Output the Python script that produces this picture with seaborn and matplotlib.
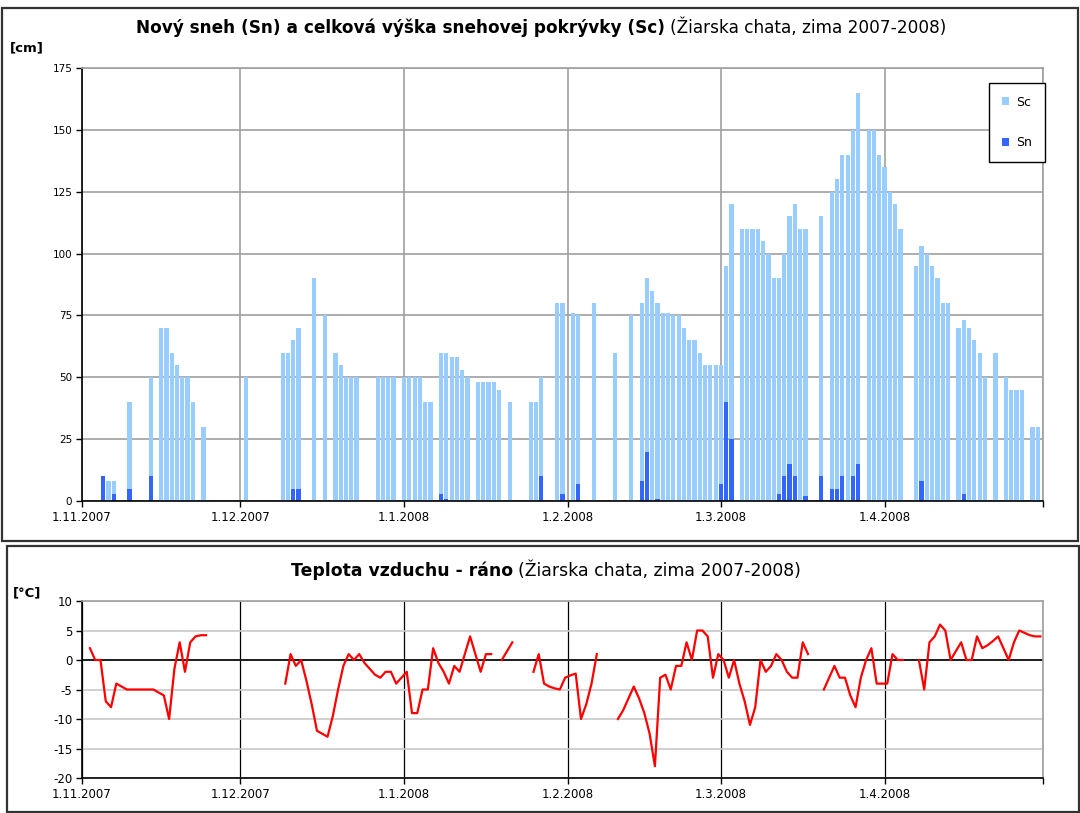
import numpy as np
import pandas as pd
import matplotlib
matplotlib.use("Agg")
import matplotlib.pyplot as plt
import matplotlib.patches as patches
import seaborn as sns

plt.rcParams["axes.unicode_minus"] = False
plt.rcParams["font.family"] = ["DejaVu Sans"]

n = np.nan

# celková výška snehovej pokrývky Sc [cm], one value per day
sc_nov = [n, n, n, n, 10, 8, 8, n, n, 40, n, n, n, 50, n, 70, 70, 60, 55, 50, 50, 40, n, 30, n, n, n, n, n, n]
sc_dec = [n, 50, n, n, n, n, n, n, 60, 60, 65, 70, n, n, 90, n, 75, n, 60, 55, 50, 50, 50, n, n, n, 50, 50, 50, 50, n]
sc_jan = [50, 50, 50, 50, 40, 40, n, 60, 60, 58, 58, 53, 50, n, 48, 48, 48, 48, 45, n, 40, n, n, n, 40, 40, 50, n, n, 80, 80]
sc_feb = [n, 76, 75, n, n, 80, n, n, n, 60, n, n, 75, n, 80, 90, 85, 80, 76, 76, 75, 75, 70, 65, 65, 60, 55, 55, 55]
sc_mar = [55, 95, 120, n, 110, 110, 110, 110, 105, 100, 90, 90, 100, 115, 120, 110, 110, n, n, 115, n, 125, 130, 140, 140, 150, 165, n, 150, 150, 140]
sc_apr = [135, 125, 120, 110, n, n, 95, 103, 100, 95, 90, 80, 80, n, 70, 73, 70, 65, 60, 50, n, 60, n, 50, 45, 45, 45, n, 30, 30]

# nový sneh Sn [cm]
sn_dates = ["5.11.2007", "7.11.2007", "10.11.2007", "14.11.2007", "11.12.2007", "12.12.2007",
            "8.1.2008", "9.1.2008", "27.1.2008", "31.1.2008", "3.2.2008", "15.2.2008", "16.2.2008",
            "18.2.2008", "1.3.2008", "2.3.2008", "3.3.2008", "12.3.2008", "13.3.2008", "14.3.2008",
            "15.3.2008", "17.3.2008", "20.3.2008", "22.3.2008", "23.3.2008", "24.3.2008", "26.3.2008",
            "27.3.2008", "8.4.2008", "16.4.2008"]
sn_values = [10, 3, 5, 10, 5, 5, 3, 1, 10, 3, 7, 8, 20, 1, 7, 40, 25, 3, 10, 15, 10, 2, 10, 5, 5, 10, 10, 15, 8, 3]

# teplota vzduchu ráno [°C]
t_nov = [n, 2, 0, 0, -7, -8, -4, -4.5, -5, -5, -5, -5, -5, -5, -5.5, -6, -10, -1.5, 3, -2, 3, 4, 4.2, 4.2, n, n, n, n, n, n]
t_dec = [n, n, n, n, n, n, n, n, -4, 1, -1, 0, -3.5, -7.5, -12, -12.5, -13, -9.5, -5, -1, 1, 0, 1, -0.5, -1.5, -2.5, -3, -2, -2, -4, -3]
t_jan = [-2, -9, -9, -5, -5, 2, -0.5, -2, -4, -1, -2, 1, 4, 1, -2, 1, 1, n, 0, 1.5, 3, n, n, n, -2, 1, -4, -4.5, -4.8, -5, -3]
t_feb = [-2.6, -2.3, -10, -7.5, -4, 1, n, n, n, -10, -8.5, -6.5, -4.5, -6.5, -9, -12.5, -18, -3, -2.5, -5, -1, -1, 3, 0, 5, 5, 4, -3, 1]
t_mar = [0, -3, 0, -4, -7, -11, -8, 0, -2, -1, 1, 0, -2, -3, -3, 3, 1, n, n, -5, -3, -1, -3, -3, -6, -8, -3, 0, 2, -4, -4]
t_apr = [-4, 1, 0, 0, n, n, 0, -5, 3, 4, 6, 5, 0, 1.5, 3, 0, 0, 4, 2, 2.5, 3.2, 4, 2, 0, 3, 5, 4.6, 4.2, 4, 4]

dates = pd.date_range("2007-11-01", "2008-04-30", freq="D")
start = dates[0]
day = np.asarray((dates - start).days)

snow = pd.DataFrame({"day": day, "Sc": sc_nov + sc_dec + sc_jan + sc_feb + sc_mar + sc_apr}).dropna()
new = pd.DataFrame({"date": pd.to_datetime(sn_dates, format="%d.%m.%Y"), "Sn": sn_values})
new["day"] = (new["date"] - start).dt.days

temp = pd.DataFrame({"day": day + 0.5, "t": t_nov + t_dec + t_jan + t_feb + t_mar + t_apr})
temp["seg"] = temp["t"].isna().cumsum()
temp = temp.dropna()

month_starts = pd.date_range("2007-11-01", "2008-05-01", freq="MS")
tick_pos = np.asarray((month_starts - start).days)
tick_lab = [f"{d.day}.{d.month}.{d.year}" for d in month_starts[:-1]] + [""]

W, H = 1080, 813
fig = plt.figure(figsize=(W / 100, H / 100), dpi=100)
ax1 = fig.add_axes([82 / W, 1 - 501 / H, 961 / W, 433 / H])
ax2 = fig.add_axes([82 / W, 1 - 778 / H, 961 / W, 177 / H])

# ---- top chart: snow ----
sns.barplot(data=snow, x="day", y="Sc", native_scale=True, color="#99CCFF", saturation=1,
            width=0.8, linewidth=0, errorbar=None, label="Sc", ax=ax1)
sns.barplot(data=new, x="day", y="Sn", native_scale=True, color="#3366FF", saturation=1,
            width=0.8, linewidth=0, errorbar=None, label="Sn", ax=ax1)
ax1.set_xlim(0, 182)
ax1.set_ylim(0, 175)
ax1.set_yticks(range(0, 176, 25))
ax1.set_xticks(tick_pos)
ax1.set_xticklabels(tick_lab, fontsize=8.5)
ax1.tick_params(axis="y", labelsize=7.5)
ax1.grid(True, color="#A0A0A0", lw=1.2)
ax1.set_axisbelow(True)
ax1.set_xlabel("")
ax1.set_ylabel("")
leg = ax1.legend(loc="upper right", bbox_to_anchor=(1.002, 0.965), fontsize=9, fancybox=False,
                 framealpha=1, edgecolor="black", handlelength=0.6, handleheight=0.6,
                 labelspacing=2.2, borderpad=1.0, handletextpad=0.6, borderaxespad=0)
leg.get_frame().set_linewidth(1.0)

# ---- bottom chart: temperature ----
sns.lineplot(data=temp, x="day", y="t", units="seg", estimator=None, color="#FF0000", lw=1.6,
             legend=False, ax=ax2)
ax2.set_xlim(0, 182)
ax2.set_ylim(-20, 10)
ax2.set_yticks(range(-20, 11, 5))
ax2.set_xticks(tick_pos)
ax2.set_xticklabels(tick_lab, fontsize=8.5)
ax2.tick_params(axis="y", labelsize=8.5)
ax2.grid(True, axis="y", color="#C8C8C8", lw=1.2)
ax2.grid(True, axis="x", color="black", lw=0.9)
ax2.axhline(0, color="black", lw=1.2, zorder=1.5)
ax2.set_axisbelow(True)
ax2.set_xlabel("")
ax2.set_ylabel("")

for ax in (ax1, ax2):
    for side in ("top", "right"):
        ax.spines[side].set_color("#A0A0A0")
        ax.spines[side].set_linewidth(1.2)
    for side in ("left", "bottom"):
        ax.spines[side].set_color("black")
        ax.spines[side].set_linewidth(1.2)
    ax.tick_params(direction="out", length=4, width=1, color="black", pad=3)

# ---- frames around both chart areas ----
fig.patches.append(patches.Rectangle((2 / W, 1 - 541 / H), 1076 / W, 533 / H, transform=fig.transFigure,
                                     fill=False, edgecolor="#333333", lw=1.6))
fig.patches.append(patches.Rectangle((7 / W, 1 - 812 / H), 1072 / W, 266 / H, transform=fig.transFigure,
                                     fill=False, edgecolor="#333333", lw=1.6))


def two_part_title(cx, cy, bold, rest, size):
    a = fig.text(cx, cy, bold, fontsize=size, fontweight="bold", va="center")
    b = fig.text(cx, cy, rest, fontsize=size, va="center")
    fig.canvas.draw()
    r = fig.canvas.get_renderer()
    wa = a.get_window_extent(r).width / fig.bbox.width
    wb = b.get_window_extent(r).width / fig.bbox.width
    gap = 5 / fig.bbox.width
    left = cx - (wa + gap + wb) / 2
    a.set_x(left)
    b.set_x(left + wa + gap)


two_part_title(541 / W, 1 - 28 / H, "Nový sneh (Sn) a celková výška snehovej pokrývky (Sc)",
               "(Žiarska chata, zima 2007-2008)", 12.2)
two_part_title(546 / W, 1 - 571 / H, "Teplota vzduchu - ráno", "(Žiarska chata, zima 2007-2008)", 12.4)

fig.text(10 / W, 1 - 48 / H, "[cm]", fontsize=9.5, fontweight="bold", va="center")
fig.text(13 / W, 1 - 593 / H, "[°C]", fontsize=9.5, fontweight="bold", va="center")

fig.savefig("out.png", dpi=100)
